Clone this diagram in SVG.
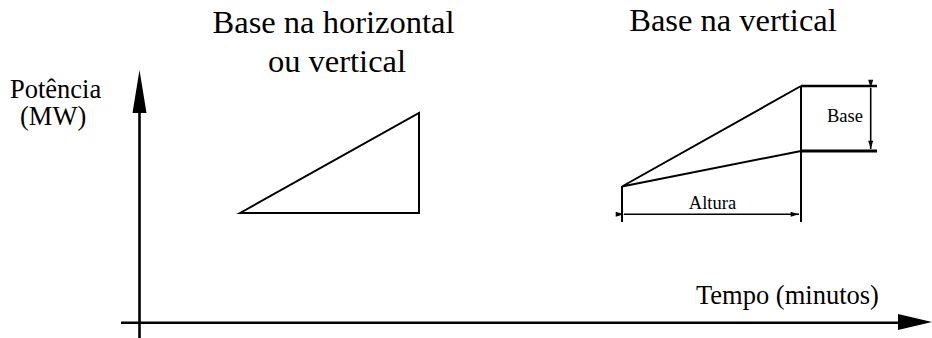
<svg xmlns="http://www.w3.org/2000/svg" width="932" height="338" viewBox="0 0 932 338">
<style>
.t{font-family:"Liberation Serif","Times New Roman",serif;font-size:32.5px;text-anchor:middle;fill:#000}
.a{font-family:"Liberation Serif","Times New Roman",serif;font-size:26.5px;fill:#000}
.s{font-family:"Liberation Serif","Times New Roman",serif;font-size:18.5px;text-anchor:middle;fill:#000}
.ln{stroke:#000;fill:none;stroke-linecap:butt}
</style>
<defs>
<marker id="sm" viewBox="0 0 10 6" refX="10" refY="3" markerWidth="10" markerHeight="5" markerUnits="userSpaceOnUse" orient="auto">
<path d="M0,0 L10,3 L0,6 Z" fill="#000"/>
</marker>
</defs>
<rect width="932" height="338" fill="#fff"/>
<g id="axes">
<line class="ln" x1="139.5" y1="338" x2="139.5" y2="110" stroke-width="2.6"/>
<path d="M139.5,70 L146.5,113 L132.5,113 Z" fill="#000"/>
<line class="ln" x1="121" y1="322.7" x2="900" y2="322.7" stroke-width="2.6"/>
<path d="M932,322 L898,314 L898,330 Z" fill="#000"/>
</g>
<g id="label-potencia">
<text class="a" x="10" y="98" font-family="Liberation Serif, serif">Potência</text>
<text class="a" x="20" y="125" font-family="Liberation Serif, serif">(MW)</text>
</g>
<g id="label-tempo">
<text class="a" x="696" y="304" font-family="Liberation Serif, serif">Tempo (minutos)</text>
</g>
<g id="left-figure">
<text class="t" x="333.5" y="33" font-family="Liberation Serif, serif">Base na horizontal</text>
<text class="t" x="337" y="72" font-family="Liberation Serif, serif">ou vertical</text>
<path class="ln" d="M240,213 L419,113 L419,213 Z" stroke-width="2"/>
</g>
<g id="right-figure">
<text class="t" x="733" y="31" font-family="Liberation Serif, serif">Base na vertical</text>
<path class="ln" d="M622,186.5 L801,86 M622,186.5 L801,151" stroke-width="2"/>
<line class="ln" x1="801" y1="86" x2="801" y2="222" stroke-width="2"/>
<line class="ln" x1="622" y1="186" x2="622" y2="222" stroke-width="2"/>
<line class="ln" x1="801" y1="86" x2="877" y2="86" stroke-width="2.6"/>
<line class="ln" x1="801" y1="151" x2="877" y2="151" stroke-width="2.8"/>
</g>
<g id="dimensions">
<line class="ln" x1="624" y1="214.3" x2="799" y2="214.3" stroke-width="1.6" marker-start="url(#sm)" marker-end="url(#sm)"/>
<line class="ln" x1="870.7" y1="88" x2="870.7" y2="149" stroke-width="1.6" marker-start="url(#sm)" marker-end="url(#sm)"/>
<text class="s" x="712.5" y="209" font-family="Liberation Serif, serif">Altura</text>
<text class="s" x="845" y="122" font-family="Liberation Serif, serif">Base</text>
</g>
</svg>
